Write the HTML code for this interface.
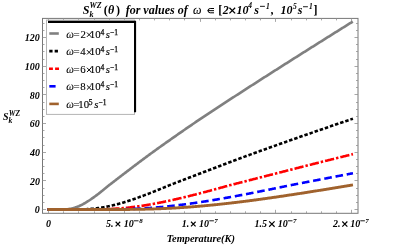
<!DOCTYPE html>
<html><head><meta charset="utf-8"><style>
html,body{margin:0;padding:0;background:#fff;}
svg{display:block;will-change:transform;opacity:0.999}
text{font-family:"Liberation Serif",serif;fill:#000}
</style></head><body>
<svg width="400" height="249" viewBox="0 0 400 249">
<rect width="400" height="249" fill="#fff"/>
<rect x="42.5" y="18.4" width="315.5" height="194.9" fill="none" stroke="#777" stroke-width="1"/>
<g stroke="#909090" stroke-width="0.8" fill="none"><path d="M48.50 213.3 v-3.5 M48.50 18.4 v3.5"/><path d="M63.50 213.3 v-2 M63.50 18.4 v2"/><path d="M78.50 213.3 v-2 M78.50 18.4 v2"/><path d="M94.50 213.3 v-2 M94.50 18.4 v2"/><path d="M109.50 213.3 v-2 M109.50 18.4 v2"/><path d="M124.50 213.3 v-3.5 M124.50 18.4 v3.5"/><path d="M139.50 213.3 v-2 M139.50 18.4 v2"/><path d="M154.50 213.3 v-2 M154.50 18.4 v2"/><path d="M169.50 213.3 v-2 M169.50 18.4 v2"/><path d="M184.50 213.3 v-2 M184.50 18.4 v2"/><path d="M200.50 213.3 v-3.5 M200.50 18.4 v3.5"/><path d="M215.50 213.3 v-2 M215.50 18.4 v2"/><path d="M230.50 213.3 v-2 M230.50 18.4 v2"/><path d="M245.50 213.3 v-2 M245.50 18.4 v2"/><path d="M260.50 213.3 v-2 M260.50 18.4 v2"/><path d="M275.50 213.3 v-3.5 M275.50 18.4 v3.5"/><path d="M291.50 213.3 v-2 M291.50 18.4 v2"/><path d="M306.50 213.3 v-2 M306.50 18.4 v2"/><path d="M321.50 213.3 v-2 M321.50 18.4 v2"/><path d="M336.50 213.3 v-2 M336.50 18.4 v2"/><path d="M351.50 213.3 v-3.5 M351.50 18.4 v3.5"/><path d="M42.5 209.50 h3.5 M358.0 209.50 h-3.5"/><path d="M42.5 202.50 h2 M358.0 202.50 h-2"/><path d="M42.5 195.50 h2 M358.0 195.50 h-2"/><path d="M42.5 188.50 h2 M358.0 188.50 h-2"/><path d="M42.5 180.50 h3.5 M358.0 180.50 h-3.5"/><path d="M42.5 173.50 h2 M358.0 173.50 h-2"/><path d="M42.5 166.50 h2 M358.0 166.50 h-2"/><path d="M42.5 159.50 h2 M358.0 159.50 h-2"/><path d="M42.5 152.50 h3.5 M358.0 152.50 h-3.5"/><path d="M42.5 145.50 h2 M358.0 145.50 h-2"/><path d="M42.5 137.50 h2 M358.0 137.50 h-2"/><path d="M42.5 130.50 h2 M358.0 130.50 h-2"/><path d="M42.5 123.50 h3.5 M358.0 123.50 h-3.5"/><path d="M42.5 116.50 h2 M358.0 116.50 h-2"/><path d="M42.5 109.50 h2 M358.0 109.50 h-2"/><path d="M42.5 102.50 h2 M358.0 102.50 h-2"/><path d="M42.5 94.50 h3.5 M358.0 94.50 h-3.5"/><path d="M42.5 87.50 h2 M358.0 87.50 h-2"/><path d="M42.5 80.50 h2 M358.0 80.50 h-2"/><path d="M42.5 73.50 h2 M358.0 73.50 h-2"/><path d="M42.5 66.50 h3.5 M358.0 66.50 h-3.5"/><path d="M42.5 59.50 h2 M358.0 59.50 h-2"/><path d="M42.5 51.50 h2 M358.0 51.50 h-2"/><path d="M42.5 44.50 h2 M358.0 44.50 h-2"/><path d="M42.5 37.50 h3.5 M358.0 37.50 h-3.5"/><path d="M42.5 30.50 h2 M358.0 30.50 h-2"/><path d="M42.5 23.50 h2 M358.0 23.50 h-2"/></g>
<g stroke-linecap="butt"><path d="M47.20 209.55 L48.60 209.55 L49.36 209.55 L50.12 209.55 L50.87 209.55 L51.63 209.55 L52.39 209.55 L53.15 209.55 L53.90 209.55 L54.66 209.55 L55.42 209.55 L56.18 209.55 L56.93 209.55 L57.69 209.55 L58.45 209.55 L59.20 209.55 L59.96 209.54 L60.72 209.54 L61.48 209.53 L62.23 209.52 L62.99 209.50 L63.75 209.48 L64.51 209.44 L65.27 209.40 L66.02 209.35 L66.78 209.29 L67.54 209.21 L68.30 209.12 L69.05 209.02 L69.81 208.90 L70.57 208.77 L71.33 208.62 L72.08 208.45 L72.84 208.26 L73.60 208.06 L74.35 207.84 L75.11 207.60 L75.87 207.34 L76.63 207.07 L77.39 206.78 L78.14 206.48 L78.90 206.16 L79.66 205.82 L80.41 205.47 L81.17 205.10 L81.93 204.72 L82.69 204.33 L83.44 203.92 L84.20 203.50 L84.96 203.07 L85.72 202.63 L86.47 202.18 L87.23 201.71 L87.99 201.23 L88.75 200.74 L89.50 200.24 L90.26 199.74 L91.02 199.22 L91.78 198.69 L92.53 198.16 L93.29 197.62 L94.05 197.08 L94.81 196.52 L95.56 195.96 L96.32 195.40 L97.08 194.83 L97.84 194.26 L98.59 193.68 L99.35 193.09 L100.11 192.49 L100.87 191.89 L101.62 191.29 L102.38 190.68 L103.14 190.07 L103.90 189.46 L104.66 188.84 L105.41 188.23 L106.17 187.60 L106.93 186.98 L107.69 186.35 L108.44 185.73 L109.20 185.10 L109.96 184.52 L110.72 183.93 L111.47 183.35 L112.23 182.77 L112.99 182.19 L113.75 181.61 L114.50 181.03 L115.26 180.45 L116.02 179.87 L116.78 179.28 L117.53 178.70 L118.29 178.12 L119.05 177.54 L119.81 176.96 L120.56 176.38 L121.32 175.81 L122.08 175.23 L122.84 174.65 L123.59 174.07 L124.35 173.49 L125.11 172.91 L125.86 172.33 L126.62 171.75 L127.38 171.17 L128.14 170.59 L128.90 170.01 L129.65 169.44 L130.41 168.86 L131.17 168.28 L131.92 167.71 L132.68 167.13 L133.44 166.56 L134.20 165.98 L134.95 165.41 L135.71 164.84 L136.47 164.27 L137.23 163.69 L137.98 163.12 L138.74 162.55 L139.50 161.98 L140.26 161.42 L141.02 160.85 L141.77 160.28 L142.53 159.72 L143.29 159.15 L144.04 158.59 L144.80 158.02 L145.56 157.46 L146.32 156.90 L147.07 156.33 L147.83 155.77 L148.59 155.21 L149.35 154.65 L150.10 154.10 L150.86 153.55 L151.62 153.00 L152.38 152.45 L153.13 151.91 L153.89 151.36 L154.65 150.81 L155.41 150.27 L156.16 149.72 L156.92 149.18 L157.68 148.64 L158.44 148.10 L159.19 147.55 L159.95 147.01 L160.71 146.47 L161.47 145.93 L162.22 145.39 L162.98 144.86 L163.74 144.32 L164.50 143.78 L165.25 143.24 L166.01 142.71 L166.77 142.17 L167.53 141.64 L168.28 141.10 L169.04 140.57 L169.80 140.04 L170.56 139.50 L171.31 138.97 L172.07 138.44 L172.83 137.91 L173.59 137.38 L174.34 136.85 L175.10 136.32 L175.86 135.79 L176.62 135.26 L177.37 134.74 L178.13 134.21 L178.89 133.68 L179.65 133.16 L180.41 132.63 L181.16 132.11 L181.92 131.58 L182.68 131.06 L183.43 130.53 L184.19 130.01 L184.95 129.49 L185.71 128.96 L186.46 128.44 L187.22 127.92 L187.98 127.40 L188.74 126.88 L189.49 126.36 L190.25 125.84 L191.01 125.32 L191.77 124.80 L192.52 124.28 L193.28 123.76 L194.04 123.24 L194.80 122.73 L195.56 122.21 L196.31 121.69 L197.07 121.18 L197.83 120.66 L198.59 120.15 L199.34 119.63 L200.10 119.12 L200.86 118.61 L201.62 118.11 L202.37 117.60 L203.13 117.10 L203.89 116.60 L204.64 116.10 L205.40 115.59 L206.16 115.09 L206.92 114.59 L207.67 114.09 L208.43 113.59 L209.19 113.09 L209.95 112.59 L210.70 112.09 L211.46 111.59 L212.22 111.09 L212.98 110.59 L213.73 110.09 L214.49 109.59 L215.25 109.10 L216.01 108.60 L216.76 108.10 L217.52 107.60 L218.28 107.11 L219.04 106.61 L219.80 106.11 L220.55 105.62 L221.31 105.12 L222.07 104.63 L222.82 104.13 L223.58 103.64 L224.34 103.14 L225.10 102.65 L225.85 102.15 L226.61 101.66 L227.37 101.17 L228.13 100.67 L228.88 100.18 L229.64 99.69 L230.40 99.20 L231.16 98.70 L231.91 98.21 L232.67 97.72 L233.43 97.23 L234.19 96.74 L234.94 96.24 L235.70 95.75 L236.46 95.26 L237.22 94.77 L237.97 94.28 L238.73 93.79 L239.49 93.30 L240.25 92.81 L241.00 92.32 L241.76 91.83 L242.52 91.34 L243.28 90.86 L244.03 90.37 L244.79 89.88 L245.55 89.39 L246.31 88.90 L247.06 88.41 L247.82 87.93 L248.58 87.44 L249.34 86.95 L250.09 86.46 L250.85 85.98 L251.61 85.49 L252.37 85.00 L253.12 84.52 L253.88 84.03 L254.64 83.54 L255.40 83.06 L256.16 82.57 L256.91 82.09 L257.67 81.60 L258.43 81.12 L259.19 80.63 L259.94 80.15 L260.70 79.66 L261.46 79.18 L262.21 78.69 L262.97 78.21 L263.73 77.72 L264.49 77.24 L265.25 76.75 L266.00 76.27 L266.76 75.79 L267.52 75.30 L268.27 74.82 L269.03 74.34 L269.79 73.85 L270.55 73.37 L271.31 72.89 L272.06 72.41 L272.82 71.92 L273.58 71.44 L274.33 70.96 L275.09 70.48 L275.85 69.99 L276.61 69.51 L277.37 69.03 L278.12 68.55 L278.88 68.07 L279.64 67.59 L280.39 67.10 L281.15 66.62 L281.91 66.14 L282.67 65.66 L283.43 65.18 L284.18 64.70 L284.94 64.22 L285.70 63.74 L286.45 63.26 L287.21 62.78 L287.97 62.30 L288.73 61.82 L289.49 61.34 L290.24 60.86 L291.00 60.38 L291.76 59.90 L292.51 59.42 L293.27 58.94 L294.03 58.46 L294.79 57.98 L295.55 57.50 L296.30 57.03 L297.06 56.55 L297.82 56.07 L298.57 55.59 L299.33 55.11 L300.09 54.63 L300.85 54.15 L301.61 53.68 L302.36 53.20 L303.12 52.72 L303.88 52.24 L304.64 51.76 L305.39 51.29 L306.15 50.81 L306.91 50.33 L307.67 49.85 L308.42 49.38 L309.18 48.90 L309.94 48.42 L310.70 47.94 L311.45 47.47 L312.21 46.99 L312.97 46.51 L313.73 46.04 L314.48 45.56 L315.24 45.08 L316.00 44.61 L316.76 44.13 L317.51 43.65 L318.27 43.18 L319.03 42.70 L319.78 42.23 L320.54 41.75 L321.30 41.27 L322.06 40.80 L322.81 40.32 L323.57 39.85 L324.33 39.37 L325.09 38.89 L325.85 38.42 L326.60 37.94 L327.36 37.47 L328.12 36.99 L328.88 36.52 L329.63 36.04 L330.39 35.57 L331.15 35.09 L331.91 34.62 L332.66 34.14 L333.42 33.67 L334.18 33.19 L334.94 32.72 L335.69 32.24 L336.45 31.77 L337.21 31.29 L337.97 30.82 L338.72 30.35 L339.48 29.87 L340.24 29.40 L341.00 28.92 L341.75 28.45 L342.51 27.98 L343.27 27.50 L344.02 27.03 L344.78 26.55 L345.54 26.08 L346.30 25.61 L347.06 25.13 L347.81 24.66 L348.57 24.19 L349.33 23.71 L350.09 23.24 L350.84 22.77 L351.60 22.29 L352.79 21.55" fill="none" stroke="#808080" stroke-width="2.65"/>
<path d="M47.20 209.55 L48.60 209.55 L49.36 209.55 L50.12 209.55 L50.87 209.55 L51.63 209.55 L52.39 209.55 L53.15 209.55 L53.90 209.55 L54.66 209.55 L55.42 209.55 L56.18 209.55 L56.93 209.55 L57.69 209.55 L58.45 209.55 L59.20 209.55 L59.96 209.55 L60.72 209.55 L61.48 209.55 L62.23 209.55 L62.99 209.55 L63.75 209.55 L64.51 209.55 L65.27 209.55 L66.02 209.55 L66.78 209.55 L67.54 209.55 L68.30 209.55 L69.05 209.55 L69.81 209.55 L70.57 209.55 L71.33 209.54 L72.08 209.54 L72.84 209.54 L73.60 209.54 L74.35 209.53 L75.11 209.53 L75.87 209.52 L76.63 209.51 L77.39 209.50 L78.14 209.49 L78.90 209.48 L79.66 209.46 L80.41 209.44 L81.17 209.43 L81.93 209.40 L82.69 209.38 L83.44 209.35 L84.20 209.32 L84.96 209.29 L85.72 209.25 L86.47 209.21 L87.23 209.17 L87.99 209.12 L88.75 209.07 L89.50 209.02 L90.26 208.96 L91.02 208.90 L91.78 208.84 L92.53 208.77 L93.29 208.69 L94.05 208.62 L94.81 208.53 L95.56 208.45 L96.32 208.36 L97.08 208.26 L97.84 208.16 L98.59 208.06 L99.35 207.95 L100.11 207.84 L100.87 207.72 L101.62 207.60 L102.38 207.47 L103.14 207.34 L103.90 207.21 L104.66 207.07 L105.41 206.93 L106.17 206.78 L106.93 206.63 L107.69 206.48 L108.44 206.32 L109.20 206.16 L109.96 205.99 L110.72 205.82 L111.47 205.65 L112.23 205.47 L112.99 205.29 L113.75 205.10 L114.50 204.91 L115.26 204.72 L116.02 204.53 L116.78 204.33 L117.53 204.13 L118.29 203.92 L119.05 203.71 L119.81 203.50 L120.56 203.29 L121.32 203.07 L122.08 202.85 L122.84 202.63 L123.59 202.40 L124.35 202.18 L125.11 201.95 L125.86 201.71 L126.62 201.47 L127.38 201.23 L128.14 200.99 L128.90 200.74 L129.65 200.49 L130.41 200.24 L131.17 199.99 L131.92 199.74 L132.68 199.48 L133.44 199.22 L134.20 198.96 L134.95 198.69 L135.71 198.43 L136.47 198.16 L137.23 197.89 L137.98 197.62 L138.74 197.35 L139.50 197.08 L140.26 196.80 L141.02 196.52 L141.77 196.24 L142.53 195.96 L143.29 195.68 L144.04 195.40 L144.80 195.12 L145.56 194.83 L146.32 194.54 L147.07 194.26 L147.83 193.97 L148.59 193.68 L149.35 193.38 L150.10 193.09 L150.86 192.79 L151.62 192.49 L152.38 192.19 L153.13 191.89 L153.89 191.59 L154.65 191.29 L155.41 190.99 L156.16 190.68 L156.92 190.38 L157.68 190.07 L158.44 189.77 L159.19 189.46 L159.95 189.15 L160.71 188.84 L161.47 188.54 L162.22 188.23 L162.98 187.91 L163.74 187.60 L164.50 187.29 L165.25 186.98 L166.01 186.67 L166.77 186.35 L167.53 186.04 L168.28 185.73 L169.04 185.41 L169.80 185.10 L170.56 184.81 L171.31 184.52 L172.07 184.23 L172.83 183.93 L173.59 183.64 L174.34 183.35 L175.10 183.06 L175.86 182.77 L176.62 182.48 L177.37 182.19 L178.13 181.90 L178.89 181.61 L179.65 181.32 L180.41 181.03 L181.16 180.74 L181.92 180.45 L182.68 180.16 L183.43 179.87 L184.19 179.58 L184.95 179.28 L185.71 178.99 L186.46 178.70 L187.22 178.41 L187.98 178.12 L188.74 177.83 L189.49 177.54 L190.25 177.25 L191.01 176.96 L191.77 176.67 L192.52 176.38 L193.28 176.09 L194.04 175.81 L194.80 175.52 L195.56 175.23 L196.31 174.94 L197.07 174.65 L197.83 174.36 L198.59 174.07 L199.34 173.78 L200.10 173.49 L200.86 173.20 L201.62 172.91 L202.37 172.62 L203.13 172.33 L203.89 172.04 L204.64 171.75 L205.40 171.46 L206.16 171.17 L206.92 170.88 L207.67 170.59 L208.43 170.30 L209.19 170.01 L209.95 169.73 L210.70 169.44 L211.46 169.15 L212.22 168.86 L212.98 168.57 L213.73 168.28 L214.49 167.99 L215.25 167.71 L216.01 167.42 L216.76 167.13 L217.52 166.84 L218.28 166.56 L219.04 166.27 L219.80 165.98 L220.55 165.70 L221.31 165.41 L222.07 165.12 L222.82 164.84 L223.58 164.55 L224.34 164.27 L225.10 163.98 L225.85 163.69 L226.61 163.41 L227.37 163.12 L228.13 162.84 L228.88 162.55 L229.64 162.27 L230.40 161.98 L231.16 161.70 L231.91 161.42 L232.67 161.13 L233.43 160.85 L234.19 160.57 L234.94 160.28 L235.70 160.00 L236.46 159.72 L237.22 159.43 L237.97 159.15 L238.73 158.87 L239.49 158.59 L240.25 158.30 L241.00 158.02 L241.76 157.74 L242.52 157.46 L243.28 157.18 L244.03 156.90 L244.79 156.61 L245.55 156.33 L246.31 156.05 L247.06 155.77 L247.82 155.49 L248.58 155.21 L249.34 154.93 L250.09 154.65 L250.85 154.37 L251.61 154.10 L252.37 153.82 L253.12 153.55 L253.88 153.28 L254.64 153.00 L255.40 152.73 L256.16 152.45 L256.91 152.18 L257.67 151.91 L258.43 151.63 L259.19 151.36 L259.94 151.09 L260.70 150.81 L261.46 150.54 L262.21 150.27 L262.97 150.00 L263.73 149.72 L264.49 149.45 L265.25 149.18 L266.00 148.91 L266.76 148.64 L267.52 148.37 L268.27 148.10 L269.03 147.82 L269.79 147.55 L270.55 147.28 L271.31 147.01 L272.06 146.74 L272.82 146.47 L273.58 146.20 L274.33 145.93 L275.09 145.66 L275.85 145.39 L276.61 145.12 L277.37 144.86 L278.12 144.59 L278.88 144.32 L279.64 144.05 L280.39 143.78 L281.15 143.51 L281.91 143.24 L282.67 142.98 L283.43 142.71 L284.18 142.44 L284.94 142.17 L285.70 141.91 L286.45 141.64 L287.21 141.37 L287.97 141.10 L288.73 140.84 L289.49 140.57 L290.24 140.30 L291.00 140.04 L291.76 139.77 L292.51 139.50 L293.27 139.24 L294.03 138.97 L294.79 138.71 L295.55 138.44 L296.30 138.18 L297.06 137.91 L297.82 137.64 L298.57 137.38 L299.33 137.11 L300.09 136.85 L300.85 136.59 L301.61 136.32 L302.36 136.06 L303.12 135.79 L303.88 135.53 L304.64 135.26 L305.39 135.00 L306.15 134.74 L306.91 134.47 L307.67 134.21 L308.42 133.95 L309.18 133.68 L309.94 133.42 L310.70 133.16 L311.45 132.89 L312.21 132.63 L312.97 132.37 L313.73 132.11 L314.48 131.84 L315.24 131.58 L316.00 131.32 L316.76 131.06 L317.51 130.79 L318.27 130.53 L319.03 130.27 L319.78 130.01 L320.54 129.75 L321.30 129.49 L322.06 129.22 L322.81 128.96 L323.57 128.70 L324.33 128.44 L325.09 128.18 L325.85 127.92 L326.60 127.66 L327.36 127.40 L328.12 127.14 L328.88 126.88 L329.63 126.62 L330.39 126.36 L331.15 126.10 L331.91 125.84 L332.66 125.58 L333.42 125.32 L334.18 125.06 L334.94 124.80 L335.69 124.54 L336.45 124.28 L337.21 124.02 L337.97 123.76 L338.72 123.50 L339.48 123.24 L340.24 122.99 L341.00 122.73 L341.75 122.47 L342.51 122.21 L343.27 121.95 L344.02 121.69 L344.78 121.44 L345.54 121.18 L346.30 120.92 L347.06 120.66 L347.81 120.40 L348.57 120.15 L349.33 119.89 L350.09 119.63 L350.84 119.37 L351.60 119.12 L352.93 118.67" fill="none" stroke="#000000" stroke-width="2.6" stroke-dasharray="3.5 1.9" stroke-dashoffset="0"/>
<path d="M47.20 209.55 L48.60 209.55 L49.36 209.55 L50.12 209.55 L50.87 209.55 L51.63 209.55 L52.39 209.55 L53.15 209.55 L53.90 209.55 L54.66 209.55 L55.42 209.55 L56.18 209.55 L56.93 209.55 L57.69 209.55 L58.45 209.55 L59.20 209.55 L59.96 209.55 L60.72 209.55 L61.48 209.55 L62.23 209.55 L62.99 209.55 L63.75 209.55 L64.51 209.55 L65.27 209.55 L66.02 209.55 L66.78 209.55 L67.54 209.55 L68.30 209.55 L69.05 209.55 L69.81 209.55 L70.57 209.55 L71.33 209.55 L72.08 209.55 L72.84 209.55 L73.60 209.55 L74.35 209.55 L75.11 209.55 L75.87 209.55 L76.63 209.55 L77.39 209.55 L78.14 209.55 L78.90 209.55 L79.66 209.55 L80.41 209.55 L81.17 209.55 L81.93 209.55 L82.69 209.54 L83.44 209.54 L84.20 209.54 L84.96 209.54 L85.72 209.54 L86.47 209.53 L87.23 209.53 L87.99 209.53 L88.75 209.52 L89.50 209.52 L90.26 209.51 L91.02 209.51 L91.78 209.50 L92.53 209.49 L93.29 209.49 L94.05 209.48 L94.81 209.47 L95.56 209.46 L96.32 209.44 L97.08 209.43 L97.84 209.42 L98.59 209.40 L99.35 209.39 L100.11 209.37 L100.87 209.35 L101.62 209.33 L102.38 209.31 L103.14 209.29 L103.90 209.26 L104.66 209.24 L105.41 209.21 L106.17 209.18 L106.93 209.15 L107.69 209.12 L108.44 209.09 L109.20 209.06 L109.96 209.02 L110.72 208.98 L111.47 208.94 L112.23 208.90 L112.99 208.86 L113.75 208.81 L114.50 208.77 L115.26 208.72 L116.02 208.67 L116.78 208.62 L117.53 208.56 L118.29 208.51 L119.05 208.45 L119.81 208.39 L120.56 208.33 L121.32 208.26 L122.08 208.20 L122.84 208.13 L123.59 208.06 L124.35 207.99 L125.11 207.91 L125.86 207.84 L126.62 207.76 L127.38 207.68 L128.14 207.60 L128.90 207.52 L129.65 207.43 L130.41 207.34 L131.17 207.26 L131.92 207.16 L132.68 207.07 L133.44 206.98 L134.20 206.88 L134.95 206.78 L135.71 206.68 L136.47 206.58 L137.23 206.48 L137.98 206.37 L138.74 206.27 L139.50 206.16 L140.26 206.05 L141.02 205.93 L141.77 205.82 L142.53 205.70 L143.29 205.59 L144.04 205.47 L144.80 205.35 L145.56 205.23 L146.32 205.10 L147.07 204.98 L147.83 204.85 L148.59 204.72 L149.35 204.59 L150.10 204.46 L150.86 204.33 L151.62 204.20 L152.38 204.06 L153.13 203.92 L153.89 203.78 L154.65 203.64 L155.41 203.50 L156.16 203.36 L156.92 203.22 L157.68 203.07 L158.44 202.93 L159.19 202.78 L159.95 202.63 L160.71 202.48 L161.47 202.33 L162.22 202.18 L162.98 202.02 L163.74 201.87 L164.50 201.71 L165.25 201.55 L166.01 201.39 L166.77 201.23 L167.53 201.07 L168.28 200.91 L169.04 200.74 L169.80 200.58 L170.56 200.41 L171.31 200.24 L172.07 200.08 L172.83 199.91 L173.59 199.74 L174.34 199.56 L175.10 199.39 L175.86 199.22 L176.62 199.04 L177.37 198.87 L178.13 198.69 L178.89 198.52 L179.65 198.34 L180.41 198.16 L181.16 197.98 L181.92 197.80 L182.68 197.62 L183.43 197.44 L184.19 197.26 L184.95 197.08 L185.71 196.89 L186.46 196.71 L187.22 196.52 L187.98 196.34 L188.74 196.15 L189.49 195.96 L190.25 195.78 L191.01 195.59 L191.77 195.40 L192.52 195.21 L193.28 195.02 L194.04 194.83 L194.80 194.64 L195.56 194.45 L196.31 194.26 L197.07 194.06 L197.83 193.87 L198.59 193.68 L199.34 193.48 L200.10 193.29 L200.86 193.09 L201.62 192.89 L202.37 192.69 L203.13 192.49 L203.89 192.29 L204.64 192.09 L205.40 191.89 L206.16 191.69 L206.92 191.49 L207.67 191.29 L208.43 191.09 L209.19 190.89 L209.95 190.68 L210.70 190.48 L211.46 190.28 L212.22 190.07 L212.98 189.87 L213.73 189.67 L214.49 189.46 L215.25 189.26 L216.01 189.05 L216.76 188.84 L217.52 188.64 L218.28 188.43 L219.04 188.23 L219.80 188.02 L220.55 187.81 L221.31 187.60 L222.07 187.40 L222.82 187.19 L223.58 186.98 L224.34 186.77 L225.10 186.56 L225.85 186.35 L226.61 186.14 L227.37 185.93 L228.13 185.73 L228.88 185.52 L229.64 185.31 L230.40 185.10 L231.16 184.90 L231.91 184.71 L232.67 184.52 L233.43 184.32 L234.19 184.13 L234.94 183.93 L235.70 183.74 L236.46 183.55 L237.22 183.35 L237.97 183.16 L238.73 182.97 L239.49 182.77 L240.25 182.58 L241.00 182.39 L241.76 182.19 L242.52 182.00 L243.28 181.80 L244.03 181.61 L244.79 181.42 L245.55 181.22 L246.31 181.03 L247.06 180.83 L247.82 180.64 L248.58 180.45 L249.34 180.25 L250.09 180.06 L250.85 179.87 L251.61 179.67 L252.37 179.48 L253.12 179.28 L253.88 179.09 L254.64 178.90 L255.40 178.70 L256.16 178.51 L256.91 178.32 L257.67 178.12 L258.43 177.93 L259.19 177.74 L259.94 177.54 L260.70 177.35 L261.46 177.16 L262.21 176.96 L262.97 176.77 L263.73 176.58 L264.49 176.38 L265.25 176.19 L266.00 176.00 L266.76 175.81 L267.52 175.61 L268.27 175.42 L269.03 175.23 L269.79 175.03 L270.55 174.84 L271.31 174.65 L272.06 174.46 L272.82 174.26 L273.58 174.07 L274.33 173.88 L275.09 173.69 L275.85 173.49 L276.61 173.30 L277.37 173.11 L278.12 172.91 L278.88 172.72 L279.64 172.53 L280.39 172.33 L281.15 172.14 L281.91 171.95 L282.67 171.75 L283.43 171.56 L284.18 171.37 L284.94 171.17 L285.70 170.98 L286.45 170.79 L287.21 170.59 L287.97 170.40 L288.73 170.21 L289.49 170.01 L290.24 169.82 L291.00 169.63 L291.76 169.44 L292.51 169.24 L293.27 169.05 L294.03 168.86 L294.79 168.67 L295.55 168.47 L296.30 168.28 L297.06 168.09 L297.82 167.90 L298.57 167.71 L299.33 167.51 L300.09 167.32 L300.85 167.13 L301.61 166.94 L302.36 166.75 L303.12 166.56 L303.88 166.37 L304.64 166.17 L305.39 165.98 L306.15 165.79 L306.91 165.60 L307.67 165.41 L308.42 165.22 L309.18 165.03 L309.94 164.84 L310.70 164.65 L311.45 164.46 L312.21 164.27 L312.97 164.07 L313.73 163.88 L314.48 163.69 L315.24 163.50 L316.00 163.31 L316.76 163.12 L317.51 162.93 L318.27 162.74 L319.03 162.55 L319.78 162.36 L320.54 162.17 L321.30 161.98 L322.06 161.80 L322.81 161.61 L323.57 161.42 L324.33 161.23 L325.09 161.04 L325.85 160.85 L326.60 160.66 L327.36 160.47 L328.12 160.28 L328.88 160.09 L329.63 159.90 L330.39 159.72 L331.15 159.53 L331.91 159.34 L332.66 159.15 L333.42 158.96 L334.18 158.77 L334.94 158.59 L335.69 158.40 L336.45 158.21 L337.21 158.02 L337.97 157.83 L338.72 157.65 L339.48 157.46 L340.24 157.27 L341.00 157.08 L341.75 156.90 L342.51 156.71 L343.27 156.52 L344.02 156.33 L344.78 156.15 L345.54 155.96 L346.30 155.77 L347.06 155.59 L347.81 155.40 L348.57 155.21 L349.33 155.03 L350.09 154.84 L350.84 154.65 L351.60 154.47 L352.96 154.13" fill="none" stroke="#ff0000" stroke-width="2.6" stroke-dasharray="9.3 2 2.45 2" stroke-dashoffset="0"/>
<path d="M47.20 209.55 L48.60 209.55 L49.36 209.55 L50.12 209.55 L50.87 209.55 L51.63 209.55 L52.39 209.55 L53.15 209.55 L53.90 209.55 L54.66 209.55 L55.42 209.55 L56.18 209.55 L56.93 209.55 L57.69 209.55 L58.45 209.55 L59.20 209.55 L59.96 209.55 L60.72 209.55 L61.48 209.55 L62.23 209.55 L62.99 209.55 L63.75 209.55 L64.51 209.55 L65.27 209.55 L66.02 209.55 L66.78 209.55 L67.54 209.55 L68.30 209.55 L69.05 209.55 L69.81 209.55 L70.57 209.55 L71.33 209.55 L72.08 209.55 L72.84 209.55 L73.60 209.55 L74.35 209.55 L75.11 209.55 L75.87 209.55 L76.63 209.55 L77.39 209.55 L78.14 209.55 L78.90 209.55 L79.66 209.55 L80.41 209.55 L81.17 209.55 L81.93 209.55 L82.69 209.55 L83.44 209.55 L84.20 209.55 L84.96 209.55 L85.72 209.55 L86.47 209.55 L87.23 209.55 L87.99 209.55 L88.75 209.55 L89.50 209.55 L90.26 209.55 L91.02 209.55 L91.78 209.55 L92.53 209.55 L93.29 209.55 L94.05 209.54 L94.81 209.54 L95.56 209.54 L96.32 209.54 L97.08 209.54 L97.84 209.54 L98.59 209.54 L99.35 209.53 L100.11 209.53 L100.87 209.53 L101.62 209.53 L102.38 209.52 L103.14 209.52 L103.90 209.51 L104.66 209.51 L105.41 209.51 L106.17 209.50 L106.93 209.50 L107.69 209.49 L108.44 209.48 L109.20 209.48 L109.96 209.47 L110.72 209.46 L111.47 209.45 L112.23 209.44 L112.99 209.44 L113.75 209.43 L114.50 209.41 L115.26 209.40 L116.02 209.39 L116.78 209.38 L117.53 209.37 L118.29 209.35 L119.05 209.34 L119.81 209.32 L120.56 209.31 L121.32 209.29 L122.08 209.27 L122.84 209.25 L123.59 209.23 L124.35 209.21 L125.11 209.19 L125.86 209.17 L126.62 209.15 L127.38 209.12 L128.14 209.10 L128.90 209.07 L129.65 209.05 L130.41 209.02 L131.17 208.99 L131.92 208.96 L132.68 208.93 L133.44 208.90 L134.20 208.87 L134.95 208.84 L135.71 208.80 L136.47 208.77 L137.23 208.73 L137.98 208.69 L138.74 208.66 L139.50 208.62 L140.26 208.58 L141.02 208.53 L141.77 208.49 L142.53 208.45 L143.29 208.40 L144.04 208.36 L144.80 208.31 L145.56 208.26 L146.32 208.21 L147.07 208.16 L147.83 208.11 L148.59 208.06 L149.35 208.00 L150.10 207.95 L150.86 207.89 L151.62 207.84 L152.38 207.78 L153.13 207.72 L153.89 207.66 L154.65 207.60 L155.41 207.54 L156.16 207.47 L156.92 207.41 L157.68 207.34 L158.44 207.28 L159.19 207.21 L159.95 207.14 L160.71 207.07 L161.47 207.00 L162.22 206.93 L162.98 206.86 L163.74 206.78 L164.50 206.71 L165.25 206.63 L166.01 206.56 L166.77 206.48 L167.53 206.40 L168.28 206.32 L169.04 206.24 L169.80 206.16 L170.56 206.07 L171.31 205.99 L172.07 205.91 L172.83 205.82 L173.59 205.73 L174.34 205.65 L175.10 205.56 L175.86 205.47 L176.62 205.38 L177.37 205.29 L178.13 205.20 L178.89 205.10 L179.65 205.01 L180.41 204.91 L181.16 204.82 L181.92 204.72 L182.68 204.63 L183.43 204.53 L184.19 204.43 L184.95 204.33 L185.71 204.23 L186.46 204.13 L187.22 204.03 L187.98 203.92 L188.74 203.82 L189.49 203.71 L190.25 203.61 L191.01 203.50 L191.77 203.40 L192.52 203.29 L193.28 203.18 L194.04 203.07 L194.80 202.96 L195.56 202.85 L196.31 202.74 L197.07 202.63 L197.83 202.52 L198.59 202.40 L199.34 202.29 L200.10 202.18 L200.86 202.06 L201.62 201.95 L202.37 201.83 L203.13 201.71 L203.89 201.59 L204.64 201.47 L205.40 201.35 L206.16 201.23 L206.92 201.11 L207.67 200.99 L208.43 200.87 L209.19 200.74 L209.95 200.62 L210.70 200.49 L211.46 200.37 L212.22 200.24 L212.98 200.12 L213.73 199.99 L214.49 199.86 L215.25 199.74 L216.01 199.61 L216.76 199.48 L217.52 199.35 L218.28 199.22 L219.04 199.09 L219.80 198.96 L220.55 198.83 L221.31 198.69 L222.07 198.56 L222.82 198.43 L223.58 198.30 L224.34 198.16 L225.10 198.03 L225.85 197.89 L226.61 197.76 L227.37 197.62 L228.13 197.49 L228.88 197.35 L229.64 197.21 L230.40 197.08 L231.16 196.94 L231.91 196.80 L232.67 196.66 L233.43 196.52 L234.19 196.38 L234.94 196.24 L235.70 196.11 L236.46 195.96 L237.22 195.82 L237.97 195.68 L238.73 195.54 L239.49 195.40 L240.25 195.26 L241.00 195.12 L241.76 194.97 L242.52 194.83 L243.28 194.69 L244.03 194.54 L244.79 194.40 L245.55 194.26 L246.31 194.11 L247.06 193.97 L247.82 193.82 L248.58 193.68 L249.34 193.53 L250.09 193.38 L250.85 193.24 L251.61 193.09 L252.37 192.94 L253.12 192.79 L253.88 192.64 L254.64 192.49 L255.40 192.34 L256.16 192.19 L256.91 192.04 L257.67 191.89 L258.43 191.74 L259.19 191.59 L259.94 191.44 L260.70 191.29 L261.46 191.14 L262.21 190.99 L262.97 190.84 L263.73 190.68 L264.49 190.53 L265.25 190.38 L266.00 190.23 L266.76 190.07 L267.52 189.92 L268.27 189.77 L269.03 189.61 L269.79 189.46 L270.55 189.31 L271.31 189.15 L272.06 189.00 L272.82 188.84 L273.58 188.69 L274.33 188.54 L275.09 188.38 L275.85 188.23 L276.61 188.07 L277.37 187.91 L278.12 187.76 L278.88 187.60 L279.64 187.45 L280.39 187.29 L281.15 187.14 L281.91 186.98 L282.67 186.82 L283.43 186.67 L284.18 186.51 L284.94 186.35 L285.70 186.20 L286.45 186.04 L287.21 185.88 L287.97 185.73 L288.73 185.57 L289.49 185.41 L290.24 185.25 L291.00 185.10 L291.76 184.95 L292.51 184.81 L293.27 184.66 L294.03 184.52 L294.79 184.37 L295.55 184.23 L296.30 184.08 L297.06 183.93 L297.82 183.79 L298.57 183.64 L299.33 183.50 L300.09 183.35 L300.85 183.21 L301.61 183.06 L302.36 182.92 L303.12 182.77 L303.88 182.63 L304.64 182.48 L305.39 182.34 L306.15 182.19 L306.91 182.05 L307.67 181.90 L308.42 181.76 L309.18 181.61 L309.94 181.46 L310.70 181.32 L311.45 181.17 L312.21 181.03 L312.97 180.88 L313.73 180.74 L314.48 180.59 L315.24 180.45 L316.00 180.30 L316.76 180.16 L317.51 180.01 L318.27 179.87 L319.03 179.72 L319.78 179.58 L320.54 179.43 L321.30 179.28 L322.06 179.14 L322.81 178.99 L323.57 178.85 L324.33 178.70 L325.09 178.56 L325.85 178.41 L326.60 178.27 L327.36 178.12 L328.12 177.98 L328.88 177.83 L329.63 177.69 L330.39 177.54 L331.15 177.40 L331.91 177.25 L332.66 177.11 L333.42 176.96 L334.18 176.82 L334.94 176.67 L335.69 176.53 L336.45 176.38 L337.21 176.24 L337.97 176.09 L338.72 175.95 L339.48 175.81 L340.24 175.66 L341.00 175.52 L341.75 175.37 L342.51 175.23 L343.27 175.08 L344.02 174.94 L344.78 174.79 L345.54 174.65 L346.30 174.50 L347.06 174.36 L347.81 174.22 L348.57 174.07 L349.33 173.93 L350.09 173.78 L350.84 173.64 L351.60 173.49 L352.98 173.23" fill="none" stroke="#0000ff" stroke-width="2.6" stroke-dasharray="7.6 3.8" stroke-dashoffset="5.3"/>
<path d="M47.20 209.55 L48.60 209.55 L49.36 209.55 L50.12 209.55 L50.87 209.55 L51.63 209.55 L52.39 209.55 L53.15 209.55 L53.90 209.55 L54.66 209.55 L55.42 209.55 L56.18 209.55 L56.93 209.55 L57.69 209.55 L58.45 209.55 L59.20 209.55 L59.96 209.55 L60.72 209.55 L61.48 209.55 L62.23 209.55 L62.99 209.55 L63.75 209.55 L64.51 209.55 L65.27 209.55 L66.02 209.55 L66.78 209.55 L67.54 209.55 L68.30 209.55 L69.05 209.55 L69.81 209.55 L70.57 209.55 L71.33 209.55 L72.08 209.55 L72.84 209.55 L73.60 209.55 L74.35 209.55 L75.11 209.55 L75.87 209.55 L76.63 209.55 L77.39 209.55 L78.14 209.55 L78.90 209.55 L79.66 209.55 L80.41 209.55 L81.17 209.55 L81.93 209.55 L82.69 209.55 L83.44 209.55 L84.20 209.55 L84.96 209.55 L85.72 209.55 L86.47 209.55 L87.23 209.55 L87.99 209.55 L88.75 209.55 L89.50 209.55 L90.26 209.55 L91.02 209.55 L91.78 209.55 L92.53 209.55 L93.29 209.55 L94.05 209.55 L94.81 209.55 L95.56 209.55 L96.32 209.55 L97.08 209.55 L97.84 209.55 L98.59 209.55 L99.35 209.55 L100.11 209.55 L100.87 209.55 L101.62 209.55 L102.38 209.55 L103.14 209.55 L103.90 209.55 L104.66 209.54 L105.41 209.54 L106.17 209.54 L106.93 209.54 L107.69 209.54 L108.44 209.54 L109.20 209.54 L109.96 209.54 L110.72 209.54 L111.47 209.53 L112.23 209.53 L112.99 209.53 L113.75 209.53 L114.50 209.53 L115.26 209.52 L116.02 209.52 L116.78 209.52 L117.53 209.52 L118.29 209.51 L119.05 209.51 L119.81 209.51 L120.56 209.50 L121.32 209.50 L122.08 209.49 L122.84 209.49 L123.59 209.48 L124.35 209.48 L125.11 209.47 L125.86 209.46 L126.62 209.46 L127.38 209.45 L128.14 209.44 L128.90 209.44 L129.65 209.43 L130.41 209.42 L131.17 209.41 L131.92 209.40 L132.68 209.39 L133.44 209.38 L134.20 209.37 L134.95 209.36 L135.71 209.35 L136.47 209.34 L137.23 209.33 L137.98 209.32 L138.74 209.30 L139.50 209.29 L140.26 209.27 L141.02 209.26 L141.77 209.24 L142.53 209.23 L143.29 209.21 L144.04 209.20 L144.80 209.18 L145.56 209.16 L146.32 209.14 L147.07 209.12 L147.83 209.10 L148.59 209.08 L149.35 209.06 L150.10 209.04 L150.86 209.02 L151.62 209.00 L152.38 208.97 L153.13 208.95 L153.89 208.93 L154.65 208.90 L155.41 208.88 L156.16 208.85 L156.92 208.82 L157.68 208.79 L158.44 208.77 L159.19 208.74 L159.95 208.71 L160.71 208.68 L161.47 208.65 L162.22 208.62 L162.98 208.58 L163.74 208.55 L164.50 208.52 L165.25 208.48 L166.01 208.45 L166.77 208.41 L167.53 208.38 L168.28 208.34 L169.04 208.30 L169.80 208.26 L170.56 208.22 L171.31 208.18 L172.07 208.14 L172.83 208.10 L173.59 208.06 L174.34 208.02 L175.10 207.97 L175.86 207.93 L176.62 207.88 L177.37 207.84 L178.13 207.79 L178.89 207.74 L179.65 207.70 L180.41 207.65 L181.16 207.60 L181.92 207.55 L182.68 207.50 L183.43 207.45 L184.19 207.40 L184.95 207.34 L185.71 207.29 L186.46 207.24 L187.22 207.18 L187.98 207.13 L188.74 207.07 L189.49 207.02 L190.25 206.96 L191.01 206.90 L191.77 206.84 L192.52 206.78 L193.28 206.72 L194.04 206.66 L194.80 206.60 L195.56 206.54 L196.31 206.48 L197.07 206.41 L197.83 206.35 L198.59 206.29 L199.34 206.22 L200.10 206.16 L200.86 206.09 L201.62 206.02 L202.37 205.96 L203.13 205.89 L203.89 205.82 L204.64 205.75 L205.40 205.68 L206.16 205.61 L206.92 205.54 L207.67 205.47 L208.43 205.40 L209.19 205.32 L209.95 205.25 L210.70 205.18 L211.46 205.10 L212.22 205.03 L212.98 204.95 L213.73 204.88 L214.49 204.80 L215.25 204.72 L216.01 204.65 L216.76 204.57 L217.52 204.49 L218.28 204.41 L219.04 204.33 L219.80 204.25 L220.55 204.17 L221.31 204.09 L222.07 204.01 L222.82 203.92 L223.58 203.84 L224.34 203.76 L225.10 203.67 L225.85 203.59 L226.61 203.50 L227.37 203.42 L228.13 203.33 L228.88 203.25 L229.64 203.16 L230.40 203.07 L231.16 202.99 L231.91 202.90 L232.67 202.81 L233.43 202.72 L234.19 202.63 L234.94 202.54 L235.70 202.45 L236.46 202.36 L237.22 202.27 L237.97 202.18 L238.73 202.08 L239.49 201.99 L240.25 201.90 L241.00 201.81 L241.76 201.71 L242.52 201.62 L243.28 201.52 L244.03 201.43 L244.79 201.33 L245.55 201.23 L246.31 201.14 L247.06 201.04 L247.82 200.94 L248.58 200.84 L249.34 200.74 L250.09 200.64 L250.85 200.54 L251.61 200.44 L252.37 200.34 L253.12 200.24 L253.88 200.14 L254.64 200.04 L255.40 199.94 L256.16 199.84 L256.91 199.74 L257.67 199.63 L258.43 199.53 L259.19 199.43 L259.94 199.32 L260.70 199.22 L261.46 199.11 L262.21 199.01 L262.97 198.91 L263.73 198.80 L264.49 198.69 L265.25 198.59 L266.00 198.48 L266.76 198.38 L267.52 198.27 L268.27 198.16 L269.03 198.05 L269.79 197.95 L270.55 197.84 L271.31 197.73 L272.06 197.62 L272.82 197.51 L273.58 197.40 L274.33 197.30 L275.09 197.19 L275.85 197.08 L276.61 196.97 L277.37 196.86 L278.12 196.75 L278.88 196.63 L279.64 196.52 L280.39 196.41 L281.15 196.30 L281.91 196.19 L282.67 196.08 L283.43 195.96 L284.18 195.85 L284.94 195.74 L285.70 195.63 L286.45 195.51 L287.21 195.40 L287.97 195.29 L288.73 195.17 L289.49 195.06 L290.24 194.94 L291.00 194.83 L291.76 194.72 L292.51 194.60 L293.27 194.49 L294.03 194.37 L294.79 194.26 L295.55 194.14 L296.30 194.02 L297.06 193.91 L297.82 193.79 L298.57 193.68 L299.33 193.56 L300.09 193.44 L300.85 193.32 L301.61 193.21 L302.36 193.09 L303.12 192.97 L303.88 192.85 L304.64 192.73 L305.39 192.61 L306.15 192.49 L306.91 192.37 L307.67 192.25 L308.42 192.13 L309.18 192.01 L309.94 191.89 L310.70 191.77 L311.45 191.65 L312.21 191.53 L312.97 191.41 L313.73 191.29 L314.48 191.17 L315.24 191.05 L316.00 190.93 L316.76 190.81 L317.51 190.68 L318.27 190.56 L319.03 190.44 L319.78 190.32 L320.54 190.20 L321.30 190.07 L322.06 189.95 L322.81 189.83 L323.57 189.71 L324.33 189.58 L325.09 189.46 L325.85 189.34 L326.60 189.21 L327.36 189.09 L328.12 188.97 L328.88 188.84 L329.63 188.72 L330.39 188.60 L331.15 188.47 L331.91 188.35 L332.66 188.23 L333.42 188.10 L334.18 187.98 L334.94 187.85 L335.69 187.73 L336.45 187.60 L337.21 187.48 L337.97 187.35 L338.72 187.23 L339.48 187.10 L340.24 186.98 L341.00 186.85 L341.75 186.73 L342.51 186.60 L343.27 186.48 L344.02 186.35 L344.78 186.23 L345.54 186.10 L346.30 185.98 L347.06 185.85 L347.81 185.73 L348.57 185.60 L349.33 185.47 L350.09 185.35 L350.84 185.22 L351.60 185.10 L352.98 184.87" fill="none" stroke="#a0622d" stroke-width="2.9"/>
</g>
<g class="leg">
<rect x="46.5" y="20.1" width="88" height="94.3" fill="#fff" stroke="#b4b4b4" stroke-width="1"/>
<path d="M48 21.85 H135.05 V112.2" fill="none" stroke="#000" stroke-width="2.1" stroke-linejoin="miter"/>
<g stroke-width="2.6" fill="none">
<path d="M49.3 33.5 H58.8" stroke="#808080"/>
<path d="M49.25 51.1 H58.8" stroke="#000" stroke-dasharray="3.3 2.1"/>
<path d="M49 68.7 H59" stroke="#f00" stroke-dasharray="3.9 2.2"/>
<path d="M49.3 86.3 H58.8" stroke="#00f" stroke-dasharray="6.3 4"/>
<path d="M49.3 103.9 H58.8" stroke="#a0622d"/>
</g>

</g>

<text x="82.67" y="13.50" font-size="12px" font-weight="bold" font-style="italic">S</text>
<text x="89.62" y="16.90" font-size="8px" font-weight="bold" font-style="italic">k</text>
<text x="89.53" y="7.75" font-size="8px" font-weight="bold" font-style="italic">WZ</text>
<text x="103.70" y="13.50" font-size="12px" font-weight="bold" font-style="normal">(</text>
<text x="107.88" y="13.50" font-size="12px" font-weight="bold" font-style="italic">θ</text>
<text x="116.12" y="13.50" font-size="12px" font-weight="bold" font-style="normal">)</text>
<text x="125.68" y="13.50" font-size="12px" font-weight="bold" font-style="italic">for values of</text>
<text x="193.00" y="13.50" font-size="12px" font-weight="normal" font-style="italic" stroke="#000" stroke-width="0.12">ω</text>
<text x="218.20" y="13.50" font-size="12px" font-weight="bold" font-style="normal">[</text>
<text x="222.68" y="13.50" font-size="12px" font-weight="bold" font-style="italic">2</text>
<path d="M229.44 7.69 L235.16 13.41 M229.44 13.41 L235.16 7.69" stroke="#000" stroke-width="1.25" fill="none"/>
<text x="236.62" y="13.50" font-size="12px" font-weight="bold" font-style="italic">10</text>
<text x="248.35" y="8.40" font-size="7.5px" font-weight="bold" font-style="italic">4</text>
<text x="254.27" y="13.50" font-size="12px" font-weight="bold" font-style="italic">s</text>
<path d="M260.00 6.34 H264.90" stroke="#000" stroke-width="0.9" fill="none"/>
<text x="265.98" y="8.50" font-size="7.5px" font-weight="bold" font-style="italic">1</text>
<text x="271.02" y="13.50" font-size="12px" font-weight="bold" font-style="italic">,</text>
<text x="280.62" y="13.50" font-size="12px" font-weight="bold" font-style="italic">10</text>
<text x="292.90" y="8.60" font-size="7.5px" font-weight="bold" font-style="italic">5</text>
<text x="297.77" y="13.50" font-size="12px" font-weight="bold" font-style="italic">s</text>
<path d="M303.00 6.74 H307.90" stroke="#000" stroke-width="0.9" fill="none"/>
<text x="308.88" y="8.60" font-size="7.5px" font-weight="bold" font-style="italic">1</text>
<text x="313.48" y="13.50" font-size="12px" font-weight="bold" font-style="normal">]</text>
<text x="24.80" y="41.20" font-size="10px" font-weight="bold" font-style="italic">120</text>
<text x="24.80" y="70.20" font-size="10px" font-weight="bold" font-style="italic">100</text>
<text x="29.70" y="99.20" font-size="10px" font-weight="bold" font-style="italic">80</text>
<text x="29.70" y="127.20" font-size="10px" font-weight="bold" font-style="italic">60</text>
<text x="29.95" y="156.20" font-size="10px" font-weight="bold" font-style="italic">40</text>
<text x="29.95" y="185.20" font-size="10px" font-weight="bold" font-style="italic">20</text>
<text x="34.70" y="213.20" font-size="10px" font-weight="bold" font-style="italic">0</text>
<text x="46.10" y="226.75" font-size="10px" font-weight="bold" font-style="italic">0</text>
<text x="105.88" y="226.75" font-size="10px" font-weight="bold" font-style="italic">5.</text>
<path d="M115.65 221.78 L120.20 226.32 M115.65 226.32 L120.20 221.78" stroke="#000" stroke-width="1.15" fill="none"/>
<text x="123.75" y="226.75" font-size="10px" font-weight="bold" font-style="italic">10</text>
<path d="M133.90 220.81 H138.50" stroke="#000" stroke-width="0.9" fill="none"/>
<text x="139.20" y="222.70" font-size="7px" font-weight="bold" font-style="italic">8</text>
<text x="181.68" y="226.75" font-size="10px" font-weight="bold" font-style="italic">1.</text>
<path d="M191.00 221.75 L195.60 226.35 M191.00 226.35 L195.60 221.75" stroke="#000" stroke-width="1.15" fill="none"/>
<text x="199.12" y="226.75" font-size="10px" font-weight="bold" font-style="italic">10</text>
<path d="M209.30 220.81 H213.90" stroke="#000" stroke-width="0.9" fill="none"/>
<text x="214.30" y="222.70" font-size="7px" font-weight="bold" font-style="italic">7</text>
<text x="254.62" y="226.75" font-size="10px" font-weight="bold" font-style="italic">1.5</text>
<path d="M269.15 221.33 L274.60 226.77 M269.15 226.77 L274.60 221.33" stroke="#000" stroke-width="1.15" fill="none"/>
<text x="277.80" y="226.75" font-size="10px" font-weight="bold" font-style="italic">10</text>
<path d="M287.90 220.81 H292.50" stroke="#000" stroke-width="0.9" fill="none"/>
<text x="292.90" y="222.70" font-size="7px" font-weight="bold" font-style="italic">7</text>
<text x="333.00" y="226.75" font-size="10px" font-weight="bold" font-style="italic">2.</text>
<path d="M342.30 221.53 L347.35 226.57 M342.30 226.57 L347.35 221.53" stroke="#000" stroke-width="1.15" fill="none"/>
<text x="350.20" y="226.75" font-size="10px" font-weight="bold" font-style="italic">10</text>
<path d="M360.30 220.81 H364.90" stroke="#000" stroke-width="0.9" fill="none"/>
<text x="365.30" y="222.70" font-size="7px" font-weight="bold" font-style="italic">7</text>
<text x="168.00" y="242.20" font-size="10px" font-weight="bold" font-style="italic" transform="translate(201.00 0) scale(1.0388 1) translate(-201.00 0)">Temperature(K)</text>
<text x="3.10" y="120.10" font-size="10px" font-weight="bold" font-style="italic">S</text>
<text x="8.38" y="123.20" font-size="7.5px" font-weight="bold" font-style="italic">k</text>
<text x="8.85" y="115.60" font-size="7.5px" font-weight="bold" font-style="italic">WZ</text>
<text x="66.33" y="37.60" font-size="10.8px" font-weight="normal" font-style="italic" stroke="#000" stroke-width="0.12">ω</text>
<text x="73.62" y="37.60" font-size="10.8px" font-weight="normal" font-style="normal" stroke="#000" stroke-width="0.12">=</text>
<text x="80.45" y="37.60" font-size="10.8px" font-weight="normal" font-style="normal" stroke="#000" stroke-width="0.12">2</text>
<path d="M86.93 32.53 L91.27 36.87 M86.93 36.87 L91.27 32.53" stroke="#000" stroke-width="0.95" fill="none"/>
<text x="89.75" y="37.60" font-size="10.8px" font-weight="normal" font-style="normal" stroke="#000" stroke-width="0.12">10</text>
<text x="100.45" y="34.60" font-size="7.5px" font-weight="normal" font-style="normal" stroke="#000" stroke-width="0.25">4</text>
<text x="105.67" y="37.60" font-size="10.8px" font-weight="normal" font-style="italic" stroke="#000" stroke-width="0.12">s</text>
<text x="110.07" y="34.60" font-size="7.5px" font-weight="normal" font-style="normal" stroke="#000" stroke-width="0.25">−1</text>
<text x="66.33" y="55.20" font-size="10.8px" font-weight="normal" font-style="italic" stroke="#000" stroke-width="0.12">ω</text>
<text x="73.62" y="55.20" font-size="10.8px" font-weight="normal" font-style="normal" stroke="#000" stroke-width="0.12">=</text>
<text x="80.33" y="55.20" font-size="10.8px" font-weight="normal" font-style="normal" stroke="#000" stroke-width="0.12">4</text>
<path d="M86.93 50.13 L91.27 54.47 M86.93 54.47 L91.27 50.13" stroke="#000" stroke-width="0.95" fill="none"/>
<text x="89.75" y="55.20" font-size="10.8px" font-weight="normal" font-style="normal" stroke="#000" stroke-width="0.12">10</text>
<text x="100.45" y="52.20" font-size="7.5px" font-weight="normal" font-style="normal" stroke="#000" stroke-width="0.25">4</text>
<text x="105.67" y="55.20" font-size="10.8px" font-weight="normal" font-style="italic" stroke="#000" stroke-width="0.12">s</text>
<text x="110.07" y="52.20" font-size="7.5px" font-weight="normal" font-style="normal" stroke="#000" stroke-width="0.25">−1</text>
<text x="66.33" y="72.80" font-size="10.8px" font-weight="normal" font-style="italic" stroke="#000" stroke-width="0.12">ω</text>
<text x="73.62" y="72.80" font-size="10.8px" font-weight="normal" font-style="normal" stroke="#000" stroke-width="0.12">=</text>
<text x="80.33" y="72.80" font-size="10.8px" font-weight="normal" font-style="normal" stroke="#000" stroke-width="0.12">6</text>
<path d="M86.93 67.73 L91.27 72.07 M86.93 72.07 L91.27 67.73" stroke="#000" stroke-width="0.95" fill="none"/>
<text x="89.75" y="72.80" font-size="10.8px" font-weight="normal" font-style="normal" stroke="#000" stroke-width="0.12">10</text>
<text x="100.45" y="69.80" font-size="7.5px" font-weight="normal" font-style="normal" stroke="#000" stroke-width="0.25">4</text>
<text x="105.67" y="72.80" font-size="10.8px" font-weight="normal" font-style="italic" stroke="#000" stroke-width="0.12">s</text>
<text x="110.07" y="69.80" font-size="7.5px" font-weight="normal" font-style="normal" stroke="#000" stroke-width="0.25">−1</text>
<text x="66.33" y="90.40" font-size="10.8px" font-weight="normal" font-style="italic" stroke="#000" stroke-width="0.12">ω</text>
<text x="73.62" y="90.40" font-size="10.8px" font-weight="normal" font-style="normal" stroke="#000" stroke-width="0.12">=</text>
<text x="80.33" y="90.40" font-size="10.8px" font-weight="normal" font-style="normal" stroke="#000" stroke-width="0.12">8</text>
<path d="M86.93 85.33 L91.27 89.67 M86.93 89.67 L91.27 85.33" stroke="#000" stroke-width="0.95" fill="none"/>
<text x="89.75" y="90.40" font-size="10.8px" font-weight="normal" font-style="normal" stroke="#000" stroke-width="0.12">10</text>
<text x="100.45" y="87.40" font-size="7.5px" font-weight="normal" font-style="normal" stroke="#000" stroke-width="0.25">4</text>
<text x="105.67" y="90.40" font-size="10.8px" font-weight="normal" font-style="italic" stroke="#000" stroke-width="0.12">s</text>
<text x="110.07" y="87.40" font-size="7.5px" font-weight="normal" font-style="normal" stroke="#000" stroke-width="0.25">−1</text>
<text x="66.33" y="108.00" font-size="10.8px" font-weight="normal" font-style="italic" stroke="#000" stroke-width="0.12">ω</text>
<text x="73.62" y="108.00" font-size="10.8px" font-weight="normal" font-style="normal" stroke="#000" stroke-width="0.12">=</text>
<text x="78.25" y="108.00" font-size="10.8px" font-weight="normal" font-style="normal" stroke="#000" stroke-width="0.12">10</text>
<text x="88.83" y="105.00" font-size="7.5px" font-weight="normal" font-style="normal" stroke="#000" stroke-width="0.25">5</text>
<text x="94.17" y="108.00" font-size="10.8px" font-weight="normal" font-style="italic" stroke="#000" stroke-width="0.12">s</text>
<text x="98.57" y="105.00" font-size="7.5px" font-weight="normal" font-style="normal" stroke="#000" stroke-width="0.25">−1</text>
<path d="M214 8.5 H210.2 A2.15 2.15 0 0 0 210.2 12.8 H214 M207.6 10.65 H214" fill="none" stroke="#000" stroke-width="1"/>
</svg></body></html>
